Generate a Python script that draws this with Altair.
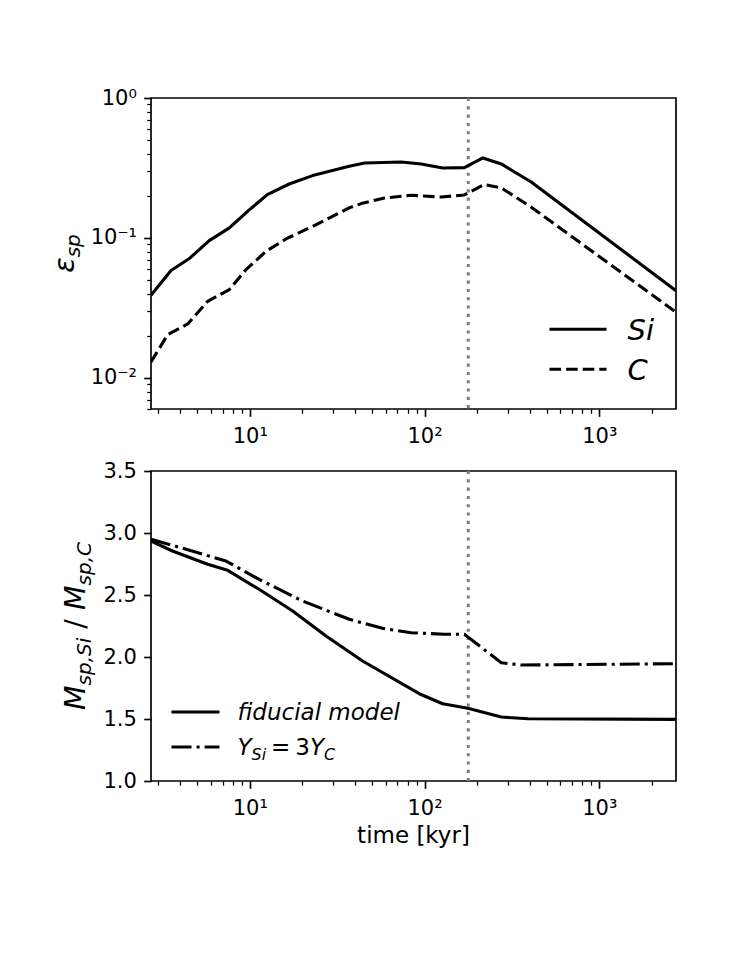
import altair as alt
import pandas as pd

# --- sputtering efficiency (top panel) ---
si_time = [2.72, 3.54, 4.51, 5.86, 7.64, 9.71, 12.6, 16.8, 22.9, 37.1, 45.4, 73.6, 95.7, 127, 169, 216, 275, 408, 2750]
si_eps = [0.039, 0.0585, 0.0713, 0.0958, 0.118, 0.155, 0.204, 0.243, 0.279, 0.325, 0.343, 0.349, 0.338, 0.316, 0.318, 0.373, 0.338, 0.251, 0.042]
c_time = [2.72, 3.39, 4.41, 5.74, 7.64, 9.51, 12.4, 16.1, 22.9, 37.1, 43.4, 59.0, 83.9, 125, 169, 220, 275, 408, 2750]
c_eps = [0.0130, 0.0204, 0.0243, 0.0353, 0.0428, 0.0594, 0.0804, 0.0984, 0.121, 0.164, 0.176, 0.193, 0.202, 0.196, 0.203, 0.241, 0.228, 0.166, 0.0295]

# --- sputtered mass ratio Si / C (bottom panel) ---
fid_time = [2.72, 3.61, 5.74, 7.47, 11.3, 17.6, 27.3, 44.2, 93.3, 127, 177, 275, 391, 2750]
fid_ratio = [2.935, 2.855, 2.748, 2.699, 2.546, 2.371, 2.169, 1.968, 1.704, 1.623, 1.586, 1.516, 1.502, 1.497]
ys_time = [2.72, 4.13, 7.31, 11.3, 20.0, 37.1, 57.5, 83.9, 130, 169, 275, 357, 2750]
ys_ratio = [2.949, 2.877, 2.774, 2.626, 2.452, 2.304, 2.231, 2.196, 2.183, 2.183, 1.954, 1.935, 1.946]

t_transition = [178]

# --- axis ticks ---
x_major = [10, 100, 1000]
x_minor = [3, 4, 5, 6, 7, 8, 9, 20, 30, 40, 50, 60, 70, 80, 90,
           200, 300, 400, 500, 600, 700, 800, 900, 2000]
eps_major = [0.01, 0.1, 1]
eps_minor = [0.006, 0.007, 0.008, 0.009, 0.02, 0.03, 0.04, 0.05, 0.06, 0.07, 0.08, 0.09,
             0.2, 0.3, 0.4, 0.5, 0.6, 0.7, 0.8, 0.9]
ratio_ticks = [1.0, 1.5, 2.0, 2.5, 3.0, 3.5]

W, H = 525, 311
FONT = "DejaVu Sans"
TICK_FS = 21
LW = 3.1
MAJOR_LEN, MINOR_LEN = 7.3, 4.2
DASHED = [11.6, 5]
DASHDOT = [20, 5, 3.1, 5]

x_dom = [2.72, 2750]
eps_dom = [0.006, 1]
ratio_dom = [1.0, 3.5]

x_label_expr = "datum.value < 50 ? '10\u00b9' : datum.value < 500 ? '10\u00b2' : '10\u00b3'"
eps_label_expr = "datum.value > 0.5 ? '10\u2070' : datum.value > 0.05 ? '10\u207b\u00b9' : '10\u207b\u00b2'"

common_axis = dict(labelFont=FONT, labelFontSize=TICK_FS, labelColor="black",
                   tickColor="black", domain=False, grid=False, title=None)


def major_x():
    return alt.Axis(orient="bottom", values=x_major, labelExpr=x_label_expr,
                    tickSize=MAJOR_LEN, tickWidth=1.67, labelPadding=9, **common_axis)


def minor_x():
    return alt.Axis(orient="bottom", values=x_minor, labels=False,
                    tickSize=MINOR_LEN, tickWidth=1.25, **common_axis)


x_scale = alt.Scale(type="log", domain=x_dom, nice=False)
dummy = pd.DataFrame({"k": [0]})


def text(s, x, y, size, italic=False, angle=0, align="left", baseline="alphabetic"):
    kw = dict(text=s, font=FONT, fontSize=size, align=align, baseline=baseline, color="black")
    if italic:
        kw["fontStyle"] = "italic"
    if angle:
        kw["angle"] = angle
    return alt.Chart(dummy).mark_text(**kw).encode(x=alt.value(x), y=alt.value(y))


def legend_line(x1, x2, y, dash):
    kw = dict(color="black", strokeWidth=LW)
    if dash:
        kw["strokeDash"] = dash
    return alt.Chart(dummy).mark_rule(**kw).encode(
        x=alt.value(x1), x2=alt.value(x2), y=alt.value(y))


def vline():
    return alt.Chart(pd.DataFrame({"t": t_transition})).mark_rule(
        color="#808080", strokeWidth=LW, strokeDash=[3.1, 5.2]
    ).encode(x=alt.X("t:Q", scale=x_scale, axis=None))


def series(times, values, scale, dash, x_axis=None, y_axis=None):
    kw = dict(clip=True, color="black", strokeWidth=LW, strokeJoin="round")
    if dash:
        kw["strokeDash"] = dash
    df = pd.DataFrame({"time": times, "value": values})
    return alt.Chart(df).mark_line(**kw).encode(
        x=alt.X("time:Q", scale=x_scale, axis=x_axis),
        y=alt.Y("value:Q", scale=scale, axis=y_axis),
    )


# ---------------- top panel ----------------
eps_scale = alt.Scale(type="log", domain=eps_dom, nice=False)
eps_major_axis = alt.Axis(orient="left", values=eps_major, labelExpr=eps_label_expr,
                          tickSize=MAJOR_LEN, tickWidth=1.67, labelPadding=7.3, **common_axis)
eps_minor_axis = alt.Axis(orient="left", values=eps_minor, labels=False,
                          tickSize=MINOR_LEN, tickWidth=1.25, **common_axis)

top = alt.layer(
    vline(),
    series(si_time, si_eps, eps_scale, None, major_x(), eps_major_axis),
    series(c_time, c_eps, eps_scale, DASHED, minor_x(), eps_minor_axis),
    legend_line(398.5, 455.5, 231.3, None),
    legend_line(398.5, 455.5, 271.3, DASHED),
    text("Si", 476.5, 241.9, 29, italic=True),
    text("C", 476.5, 281.9, 29, italic=True),
    text("\u03b5", -77, 174.7, 28.5, italic=True, angle=270),
    text("sp", -71.3, 159.3, 20, italic=True, angle=270),
).resolve_axis(x="independent", y="independent").properties(width=W, height=H)

# ---------------- bottom panel ----------------
ratio_scale = alt.Scale(domain=ratio_dom, nice=False, zero=False)
ratio_axis = alt.Axis(orient="left", values=ratio_ticks, format=".1f",
                      tickSize=MAJOR_LEN, tickWidth=1.67, labelPadding=7.3, **common_axis)

SUB = 16
bottom = alt.layer(
    vline(),
    series(fid_time, fid_ratio, ratio_scale, None, major_x(), ratio_axis),
    series(ys_time, ys_ratio, ratio_scale, DASHDOT, minor_x(), None),
    legend_line(20.5, 68.5, 241, None),
    legend_line(20.5, 68.5, 276, DASHDOT),
    text("fiducial model", 86.5, 249.3, 23, italic=True),
    text("Y", 86.5, 284.3, 23, italic=True),
    text("Si", 100.5, 289.3, SUB, italic=True),
    text("=", 120.1, 284.3, 23),
    text("3", 144.3, 284.3, 23),
    text("Y", 158.9, 284.3, 23, italic=True),
    text("C", 172.9, 289.3, SUB, italic=True),
    # y-axis title: M_sp,Si / M_sp,C
    text("M", -66, 239, 28.5, italic=True, angle=270),
    text("sp,Si", -60.3, 214.4, 20, italic=True, angle=270),
    text("/", -66, 157.7, 28.5, angle=270),
    text("M", -66, 139, 28.5, italic=True, angle=270),
    text("sp,C", -60.3, 114.4, 20, italic=True, angle=270),
    text("time [kyr]", 262.5, 372, 23, align="center"),
).resolve_axis(x="independent", y="independent").properties(width=W, height=H - 1)

chart = alt.vconcat(top, bottom, spacing=11).properties(
    padding={"left": 50, "top": 86, "right": 10, "bottom": 10}
).configure_view(stroke="black", strokeWidth=1.67)

chart.save("out.html", embed_options={"renderer": "svg", "actions": False})
